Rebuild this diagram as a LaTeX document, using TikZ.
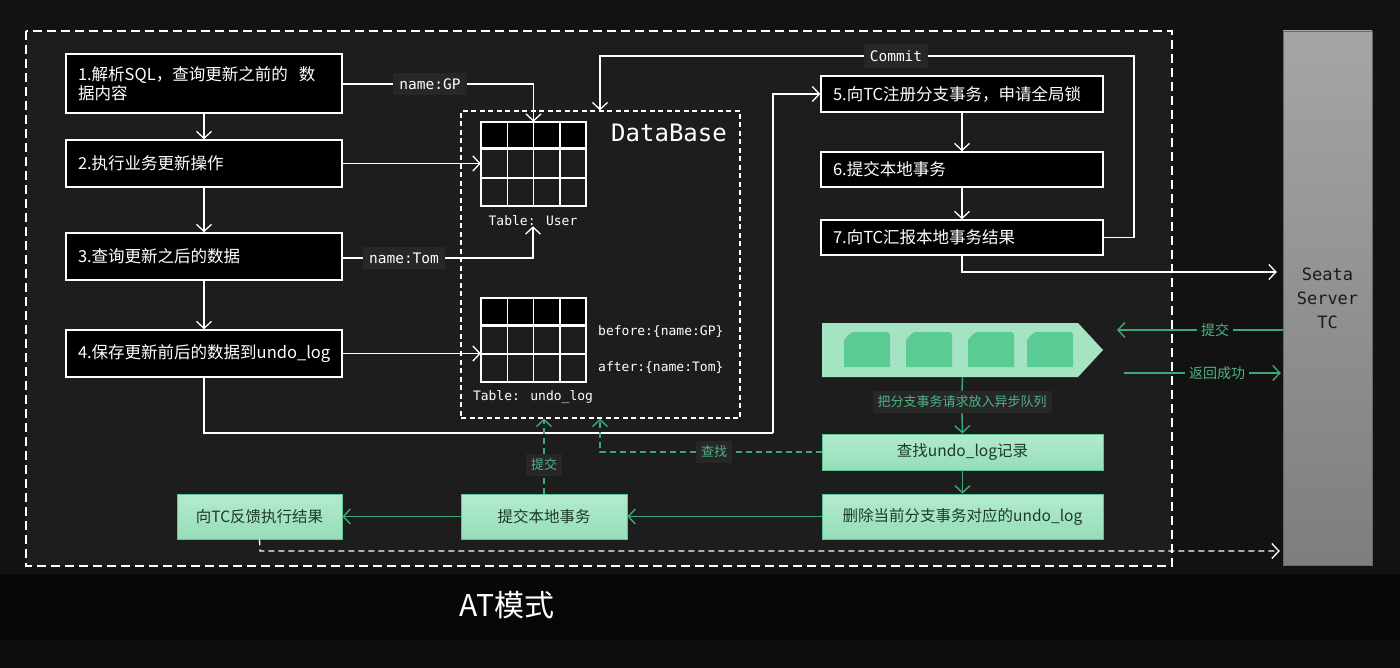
\documentclass[tikz,border=0pt]{standalone}
\usepackage{fontspec}
\setmainfont{DejaVu Sans Mono}
\newfontfamily\cjk{Noto Sans CJK SC}
\newfontfamily\mono{DejaVu Sans Mono}
\usetikzlibrary{arrows.meta,calc}
\definecolor{bgout}{HTML}{121212}
\definecolor{bgin}{HTML}{1D1D1D}
\definecolor{bgband}{HTML}{070707}
\definecolor{bgband2}{HTML}{0D0D0D}
\definecolor{labbg}{HTML}{272727}
\definecolor{gline}{HTML}{3CA878}
\definecolor{gtxt}{HTML}{4FB384}
\definecolor{gtop}{HTML}{B2EBCF}
\definecolor{gbot}{HTML}{96DDB8}
\definecolor{gborder}{HTML}{5CC595}
\definecolor{gdark}{HTML}{1E3A2C}
\definecolor{gblock}{HTML}{5ACB93}
\definecolor{gqueue}{HTML}{A4E4C3}
\definecolor{tctop}{HTML}{A5A5A5}
\definecolor{tcbot}{HTML}{7E7E7E}
\definecolor{tcdraw}{HTML}{6A6A6A}
\definecolor{tctext}{HTML}{1A1A1A}
\newcommand{\mytable}[2]{%
  \fill[black] (#1,#2) rectangle ++(105,27);
  \draw[white,line width=1.5pt] (#1,#2) rectangle ++(105,84);
  \draw[white,line width=3pt] (#1,#2+27) -- ++(105,0);
  \draw[white,line width=1.5pt] (#1,#2+56) -- ++(105,0);
  \foreach \i in {26.25,52.5,78.75} \draw[white,line width=1.5pt] (#1+\i,#2) -- ++(0,84);
}
\newcommand{\qblock}[1]{%
  \fill[gblock] (#1,340) [rounded corners=3pt] -- (#1+7,332) -- (#1+46,332) [sharp corners] -- (#1+46,367) -- (#1,367) -- cycle;
}
\begin{document}
\begin{tikzpicture}[x=1pt,y=-1pt,
  wbox/.style={draw=white, line width=1.5pt, fill=black, text=white,
    font=\cjk\fontsize{16.5}{19}\selectfont, align=left, inner xsep=12pt, inner ysep=0pt},
  gbox/.style={draw=gborder, line width=0.8pt, top color=gtop, bottom color=gbot, text=gdark,
    font=\cjk\fontsize{15.5}{18}\selectfont, align=center, inner sep=0pt},
  lab/.style={fill=labbg, text=white, font=\mono\fontsize{14.5}{16}\selectfont, inner xsep=6pt, inner ysep=6pt},
  glab/.style={fill=labbg, text=gtxt, font=\cjk\fontsize{13}{15}\selectfont, inner sep=5pt},
  glabo/.style={fill=bgout, text=gtxt, font=\cjk\fontsize{14}{16}\selectfont, inner sep=4pt},
  wline/.style={draw=white, line width=1.3pt},
  warrow/.style={wline, -{Straight Barb[length=7pt,width=15pt]}},
  gl/.style={draw=gline, line width=1.4pt},
  garrow/.style={gl, -{Straight Barb[length=7pt,width=15pt]}},
  gdash/.style={dash pattern=on 6pt off 4pt},
  txt/.style={text=white, font=\mono\fontsize{13}{15}\selectfont, inner sep=0pt}
]
\useasboundingbox (0,0) rectangle (1400,668);
% backgrounds
\fill[bgout] (0,0) rectangle (1400,668);
\fill[bgin] (26,31) rectangle (1172,566);
\fill[bgband] (0,574) rectangle (1400,668);
\fill[bgband2] (0,640) rectangle (1400,668);
\draw[white, line width=2pt, dash pattern=on 9pt off 5pt] (26,31) rectangle (1172,566);

% database box
\node[draw=white, line width=1.3pt, dash pattern=on 5pt off 3.5pt, minimum width=279pt, minimum height=307pt, inner sep=0pt] (db) at (600.5,264.5) {};
\node[text=white, font=\mono\fontsize{24}{26}\selectfont, inner sep=0pt] (dbt) at (669,133) {DataBase};
\mytable{481}{122}
\node[minimum width=105pt, minimum height=84pt, inner sep=0pt] (tu) at (533.5,164) {};
\node[txt] (tul) at (533,221) {Table: User};
\mytable{481}{298}
\node[minimum width=105pt, minimum height=84pt, inner sep=0pt] (un) at (533.5,340) {};
\node[txt] (unl) at (533,397) {Table: undo\_log};
\node[txt, anchor=west] (bef) at (598,332) {before:\{name:GP\}};
\node[txt, anchor=west] (aft) at (598,368) {after:\{name:Tom\}};

% left boxes
\node[wbox, text width=252pt, minimum height=59pt] (b1) at (204,83.5) {1.解析SQL，查询更新之前的\ \ 数\\据内容};
\node[wbox, text width=252pt, minimum height=47pt] (b2) at (204,163.5) {2.执行业务更新操作};
\node[wbox, text width=252pt, minimum height=47pt] (b3) at (204,256.5) {3.查询更新之后的数据};
\node[wbox, text width=252pt, minimum height=47pt] (b4) at (204,353.5) {4.保存更新前后的数据到undo\_log};
\node[lab] (gp) at (430,84) {name:GP};
\node[lab] (tom) at (404,258) {name:Tom};

% right boxes
\node[wbox, text width=258pt, minimum height=36pt] (b5) at (962,94) {5.向TC注册分支事务，申请全局锁};
\node[wbox, text width=258pt, minimum height=35pt] (b6) at (962,169.5) {6.提交本地事务};
\node[wbox, text width=258pt, minimum height=35pt] (b7) at (962,237.5) {7.向TC汇报本地事务结果};
\node[lab] (cm) at (896,56) {Commit};

% Seata server
\node[top color=tctop, bottom color=tcbot, draw=tcdraw, line width=0.5pt, minimum width=89pt, minimum height=534pt, inner sep=0pt, align=center, text=tctext, font=\mono\fontsize{17}{24}\selectfont] (tc) at (1327.5,298) {Seata\\Server\\TC};

% queue
\node[minimum width=281pt, minimum height=54pt, inner sep=0pt] (q) at (962.5,350) {};
\fill[gqueue] (822,323) -- (1078,323) -- (1103,350) -- (1078,377) -- (822,377) -- cycle;
\qblock{844}\qblock{906}\qblock{968}\qblock{1027}
\node[glab] (ql) at (962,402) {把分支事务请求放入异步队列};
\node[glabo] (tj) at (1215,330) {提交};
\node[glabo] (rs) at (1217,373) {返回成功};
\coordinate (ta) at (1117,330);
\coordinate (rb) at (1124,373);

% green boxes
\node[gbox, minimum width=281pt, minimum height=36pt] (f1) at (962.5,452) {查找undo\_log记录};
\node[gbox, minimum width=281pt, minimum height=45pt] (f2) at (962.5,516.5) {删除当前分支事务对应的undo\_log};
\node[gbox, minimum width=166pt, minimum height=45pt] (f3) at (544,516.5) {提交本地事务};
\node[gbox, minimum width=165pt, minimum height=45pt] (f4) at (259.5,516.5) {向TC反馈执行结果};
\node[glab] (tj2) at (544,465) {提交};
\node[glab] (cz) at (714,452) {查找};

\node[text=white, font=\cjk\fontsize{30}{32}\selectfont, inner sep=0pt] (at) at (507,605) {AT模式};

% coordinates
\coordinate (c1) at (773,433);
\coordinate (c2) at (1134,56);
\coordinate (c3) at (600,0);
\coordinate (c4) at (962,272);
\coordinate (c7) at (260,551);

% white connectors
\draw[warrow] (b1) -- (b2);
\draw[warrow] (b2) -- (b3);
\draw[warrow] (b3) -- (b4);
\draw[wline] (b1.east |- gp.west) -- (gp.west);
\draw[warrow] (gp.east) -| (tu.north);
\draw[warrow] (b2.east) -- (b2.east -| tu.west);
\draw[wline] (b3.east |- tom.west) -- (tom.west);
\draw[warrow] (tom.east) -| (tul.south);
\draw[warrow] (b4.east) -- (b4.east -| un.west);
\draw[wline] (b4.south) |- (c1);
\draw[warrow] (c1) |- (b5.west);
\draw[warrow] (b5) -- (b6);
\draw[warrow] (b6) -- (b7);
\draw[wline] (b7.east) -| (c2) -- (cm.east);
\draw[warrow] (cm.west) -| (c3 |- db.north);
\draw[warrow, shorten >=6pt] (b7.south) -- (c4) -- (c4 -| tc.west);

% green connectors
\draw[gl] (tc.west |- ta) -- (tj.east);
\draw[garrow] (tj.west) -- (ta);
\draw[gl] (rb) -- (rs.west);
\draw[garrow, shorten >=2pt] (rs.east) -- (rs.east -| tc.west);
\draw[gl] (q.south) -- (ql.north);
\draw[garrow] (ql.south) -- (f1.north);
\draw[garrow] (f1) -- (f2);
\draw[garrow] (f2) -- (f3);
\draw[garrow] (f3) -- (f4);
\draw[gl, gdash] (f3.north) -- (tj2.south);
\draw[garrow, gdash] (tj2.north) -- (tj2.north |- db.south);
\draw[gl, gdash] (f1.west) -- (cz.east);
\draw[garrow, gdash] (cz.west) -| (c3 |- db.south);

% white dashed to TC
\draw[wline, dash pattern=on 6pt off 4pt, -{Straight Barb[length=7pt,width=15pt]}, shorten >=3pt] (f4.south) -- (c7) -- (c7 -| tc.west);
\end{tikzpicture}
\end{document}
